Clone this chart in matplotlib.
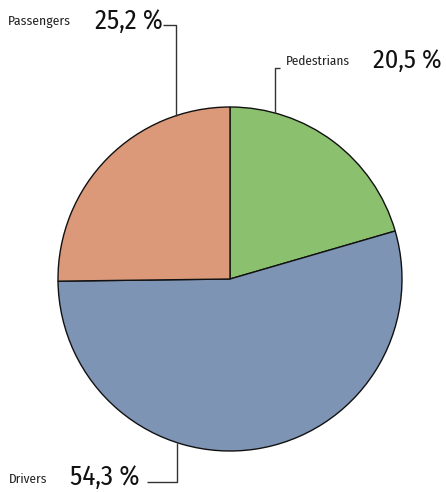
import matplotlib
matplotlib.use("Agg")
import matplotlib.pyplot as plt
import numpy as np

# Shares of road-traffic victims
categories = ["Pedestrians", "Drivers", "Passengers"]
shares = [20.5, 54.3, 25.2]
share_labels = ["20,5 %", "54,3 %", "25,2 %"]
colors = ["#8bc16e", "#7e94b4", "#db997a"]

W, H = 446, 492
FONT = ["Fira Sans Condensed", "DejaVu Sans"]

fig = plt.figure(figsize=(W / 100, H / 100), dpi=100)
ax = fig.add_axes([0, 0, 1, 1])

cx, cy, r = 230, H - 279, 172
ax.pie(shares, colors=colors, startangle=90, counterclock=False,
       center=(cx, cy), radius=r, frame=True,
       wedgeprops=dict(edgecolor="#111111", linewidth=1.0))
ax.set_xlim(0, W)
ax.set_ylim(0, H)
ax.set_aspect("equal")
ax.axis("off")

line_kw = dict(color="#333333", lw=1.0, solid_capstyle="butt")
renderer = fig.canvas.get_renderer()


def edge_y(x, upper=True):
    d = np.sqrt(r ** 2 - (x - cx) ** 2)
    return cy + d if upper else cy - d


def py(y):
    return H - y


def label(x, y, s, width, weight="normal", color="#222222"):
    """Place text with its left edge at x and baseline at y, sized to the given width."""
    t = ax.text(x, py(y), s, fontsize=10, family=FONT, fontweight=weight,
                ha="left", va="baseline", color=color)
    w = t.get_window_extent(renderer).width
    t.set_fontsize(10 * width / w)
    return t


# Passengers (top left)
ax.plot([163, 176, 176], [py(25), py(25), edge_y(176)], **line_kw)
label(8, 25, categories[2], 63)
label(95, 29, share_labels[2], 68, color="#111111")

# Pedestrians (top right)
ax.plot([280, 275, 275], [py(68), py(68), edge_y(275)], **line_kw)
label(286, 65, categories[0], 64)
label(373, 68, share_labels[0], 69, color="#111111")

# Drivers (bottom left)
ax.plot([147, 177, 177], [py(482), py(482), edge_y(177, upper=False)], **line_kw)
label(9, 483, categories[1], 38)
label(70, 485, share_labels[1], 70, color="#111111")

fig.savefig("out.png", dpi=100)
